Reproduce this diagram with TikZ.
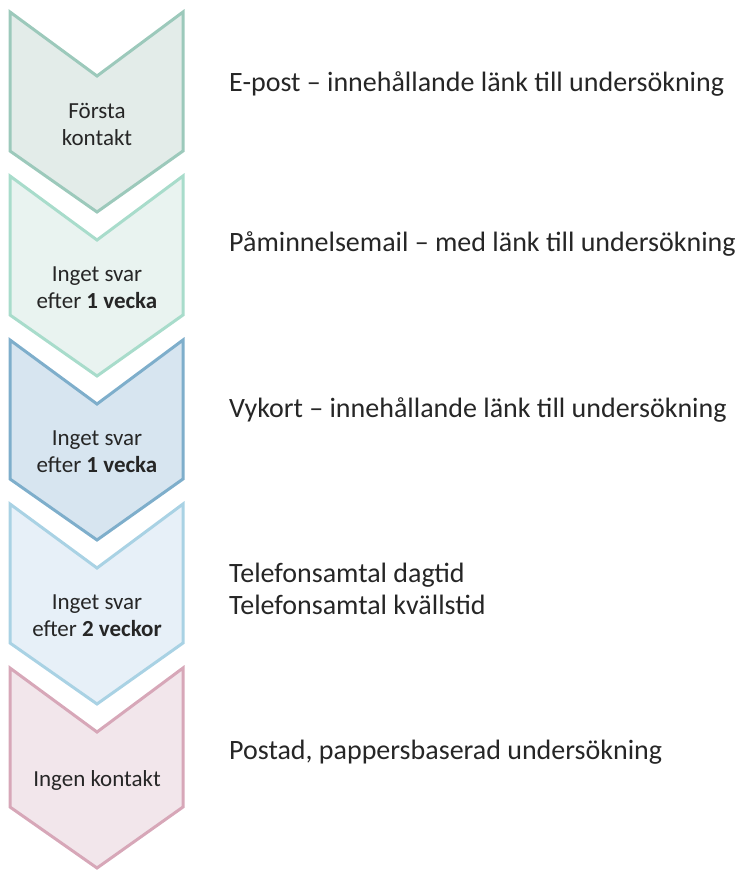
\documentclass[tikz,border=0pt]{standalone}
\usepackage{fontspec}
\setmainfont{Carlito}
\usetikzlibrary{positioning}
\definecolor{stepAline}{HTML}{9CC9BB}\definecolor{stepAfill}{HTML}{E3ECE9}
\definecolor{stepBline}{HTML}{A8DCCB}\definecolor{stepBfill}{HTML}{E9F3F0}
\definecolor{stepCline}{HTML}{7EAECB}\definecolor{stepCfill}{HTML}{D7E5F0}
\definecolor{stepDline}{HTML}{A9D2E4}\definecolor{stepDfill}{HTML}{E7F0F8}
\definecolor{stepEline}{HTML}{D7A7B8}\definecolor{stepEfill}{HTML}{F2E6EB}
\tikzset{
  chevron/.style={line width=3pt, line join=miter},
  steplabel/.style={font=\fontsize{23}{27}\selectfont, align=center, text=black!85},
  actionlabel/.style={font=\fontsize{28}{32}\selectfont, anchor=west, align=left, text=black!85, inner sep=0pt}
}
\begin{document}
\begin{tikzpicture}[x=1pt,y=-1pt]
\useasboundingbox (0,0) rectangle (745,871);
% Chevrons with their step labels
\foreach \i/\yy/\c/\txt in {1/12/A/{Första\\kontakt},
    2/176/B/{Inget svar\\efter \textbf{1 vecka}},
    3/340/C/{Inget svar\\efter \textbf{1 vecka}},
    4/504/D/{Inget svar\\efter \textbf{2 veckor}},
    5/668/E/{Ingen kontakt}} {
  \draw[chevron, draw=step\c line, fill=step\c fill]
    (10,\yy) -- (97,\yy+64) -- (183,\yy) -- (183,\yy+139) -- (97,\yy+200) -- (10,\yy+139) -- cycle;
  \node[steplabel] (step\i) at (97,\yy+112) {\txt};
}
% Actions to the right
\node[actionlabel] (act1) at (229,84) {E-post – innehållande länk till undersökning};
\node[actionlabel] (act2) at (229,244) {Påminnelsemail – med länk till undersökning};
\node[actionlabel] (act3) at (229,410) {Vykort – innehållande länk till undersökning};
\node[actionlabel] (act4) at (229,589) {Telefonsamtal dagtid\\Telefonsamtal kvällstid};
\node[actionlabel] (act5) at (229,752) {Postad, pappersbaserad undersökning};
\end{tikzpicture}
\end{document}
